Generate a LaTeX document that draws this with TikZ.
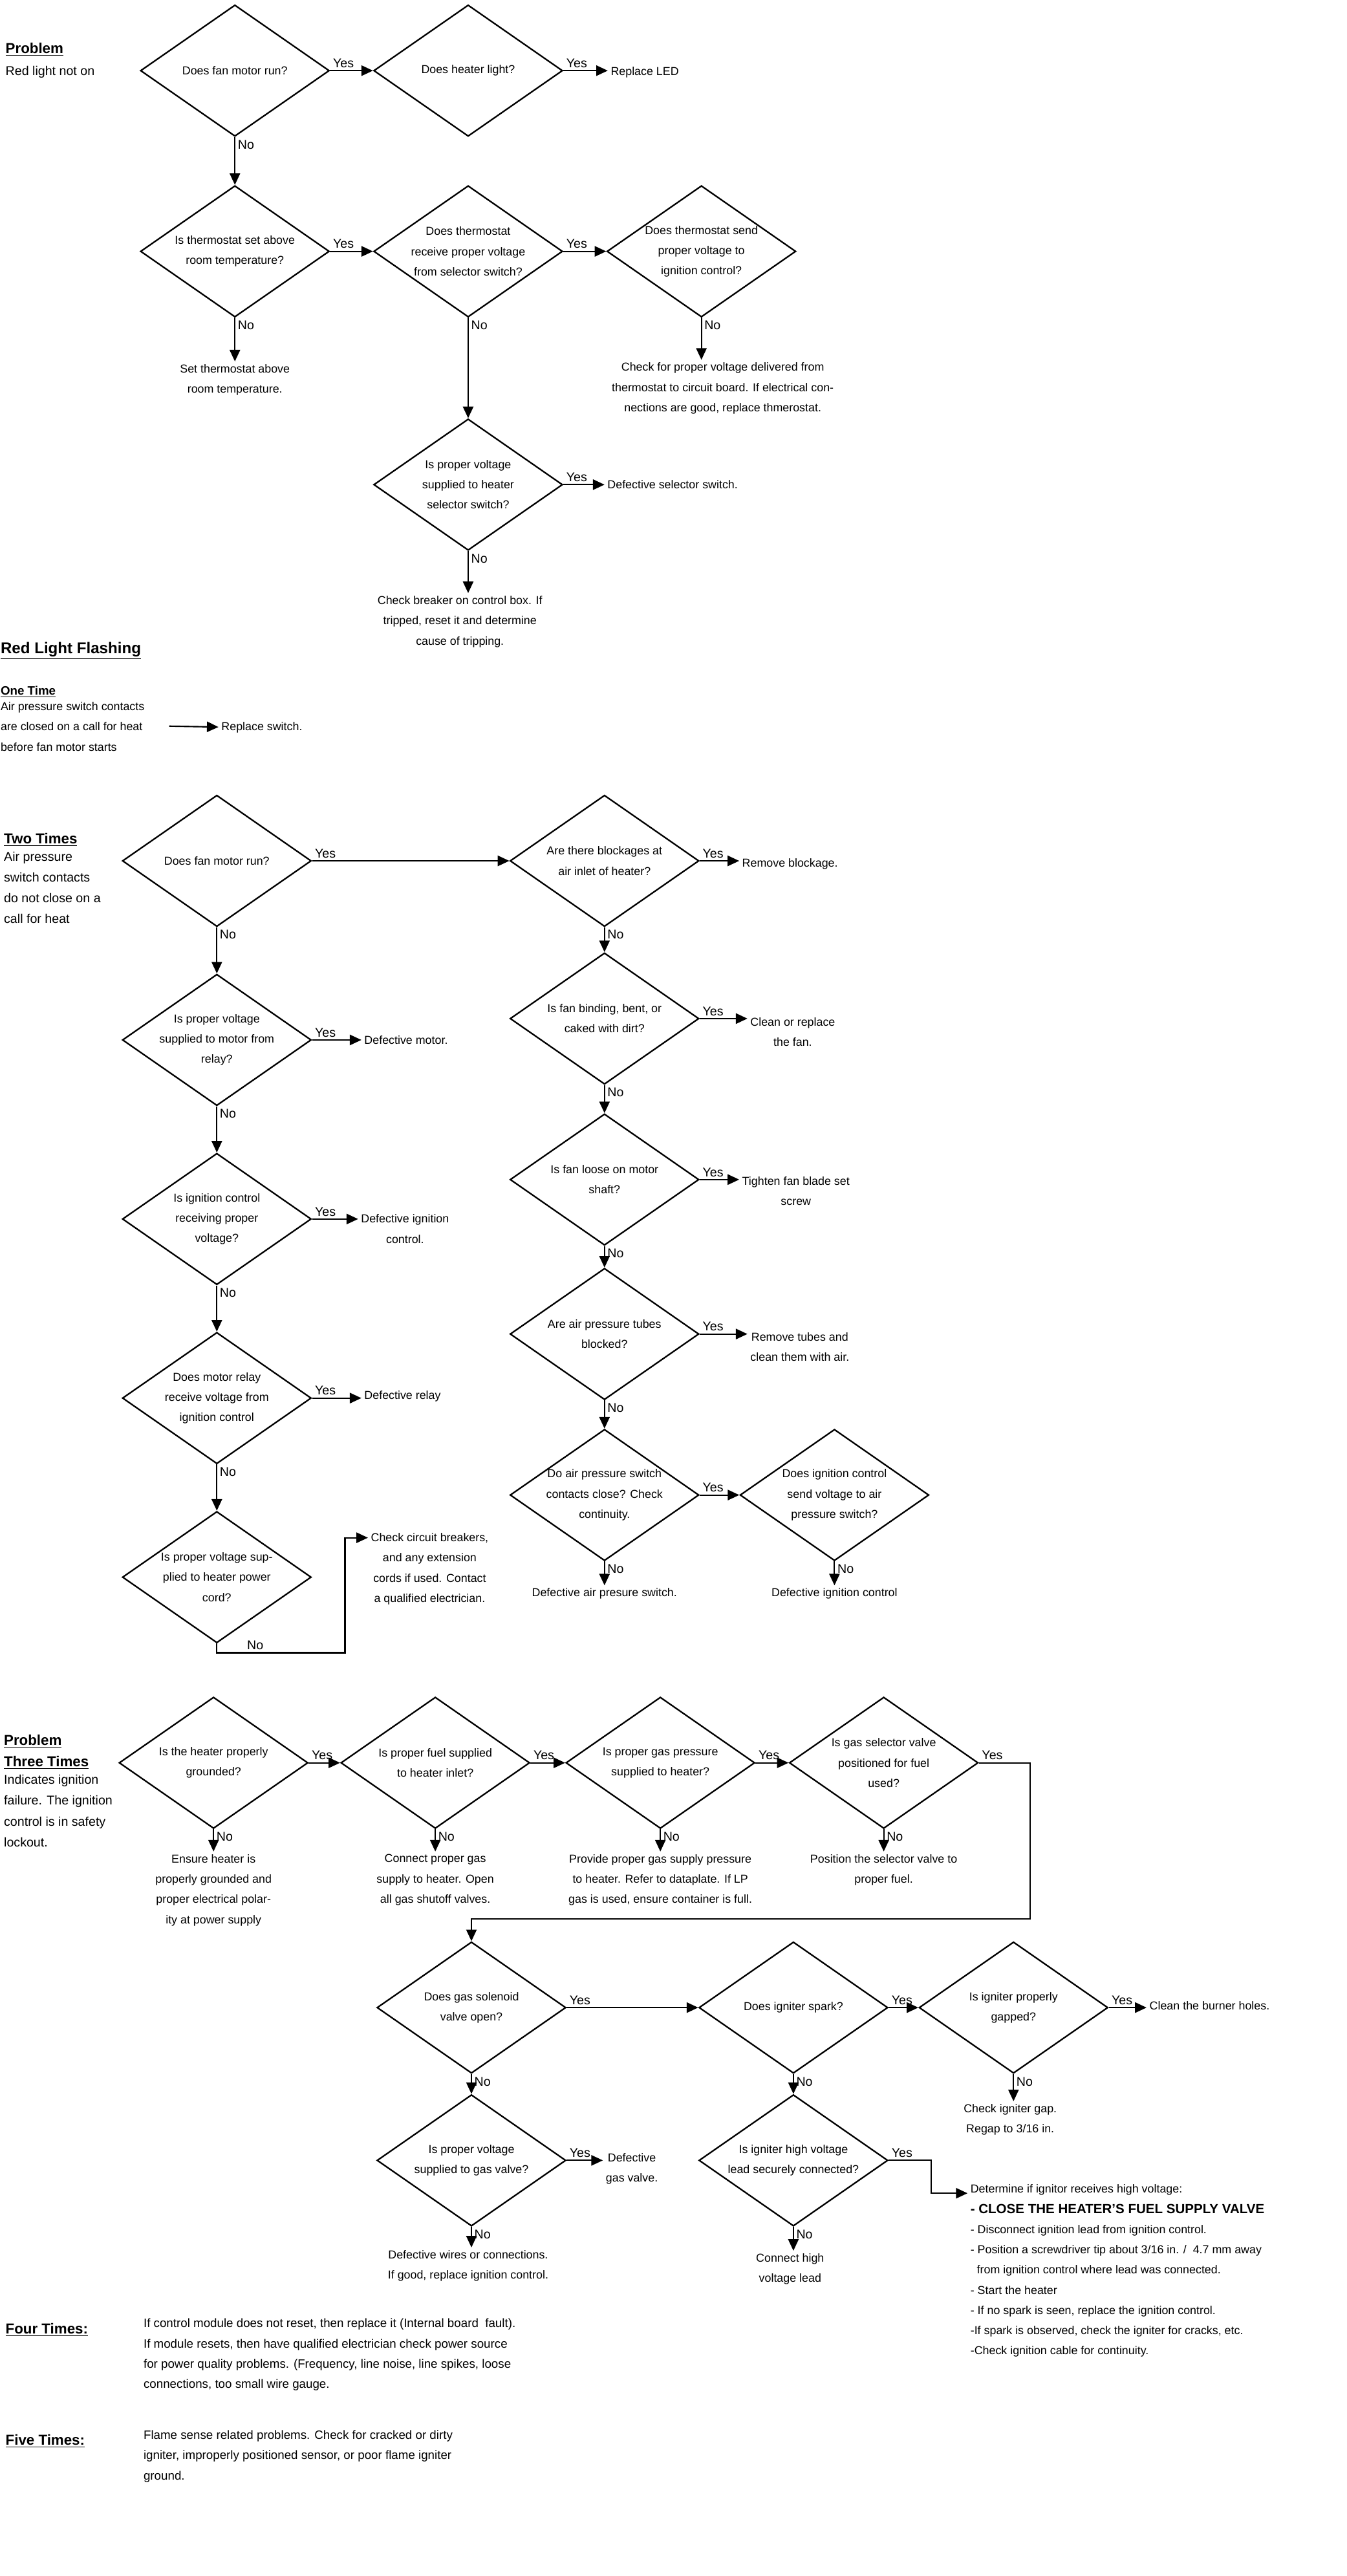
\documentclass[tikz,border=0pt]{standalone}
\usepackage{fontspec}
\setmainfont{Liberation Sans}
\usetikzlibrary{shapes.geometric,arrows.meta}

\begin{document}
\begin{tikzpicture}[x=0.05cm, y=-0.05cm, ->, >={Triangle[length=10pt,width=9pt]},
    line width=1.2pt, font=\fontsize{10}{17.5}\selectfont]
  \tikzstyle{decision}=[diamond,draw,line width=1.3pt,minimum width=5.75cm,minimum height=4cm,
    inner xsep=-1.6cm,inner ysep=-1cm,align=center]
  \tikzstyle{result}=[align=center,inner sep=2pt]
  \tikzstyle{note}=[align=left,inner sep=0pt,anchor=north west,font=\fontsize{11}{18}\selectfont]
  \tikzstyle{head}=[anchor=west,inner sep=0pt,font=\bfseries\fontsize{12.5}{15}\selectfont]
  \tikzstyle{yeslabel}=[above right,pos=0,inner sep=2pt,font=\fontsize{11}{13}\selectfont]
  \tikzstyle{nolabel}=[below right,pos=0,inner sep=2pt,font=\fontsize{11}{13}\selectfont]

  \useasboundingbox (0,0) rectangle (820,1568);

  % red light not on
  \node[head] (prob1) at (3,30) {\underline{Problem}};
  \node[anchor=west,inner sep=0pt,font=\fontsize{11}{13}\selectfont] (prob1txt) at (3,44) {Red light not on};

  \node[decision] (fan) at (143,43) {Does fan motor run?};
  \node[decision] (light) at (285,43) {Does heater light?};
  \node[result,anchor=west] (led) at (370,44) {Replace LED};
  \node[decision] (set) at (143,153) {Is thermostat set above\\room temperature?};
  \node[decision] (recv) at (285,153) {Does thermostat\\receive proper voltage\\from selector switch?};
  \node[decision] (send) at (427,153) {Does thermostat send\\proper voltage to\\ignition control?};
  \node[result,anchor=north] (setres) at (143,220) {Set thermostat above\\room temperature.};
  \node[result,anchor=north] (sendres) at (440,219) {Check for proper voltage delivered from\\thermostat to circuit board. If electrical con-\\nections are good, replace thmerostat.};
  \node[decision] (sel) at (285,295) {Is proper voltage\\supplied to heater\\selector switch?};
  \node[result,anchor=west] (selres) at (368,295) {Defective selector switch.};
  \node[result,anchor=north] (brk) at (280,361) {Check breaker on control box. If\\tripped, reset it and determine\\cause of tripping.};

  % red light flashing
  \node[head,font=\bfseries\fontsize{13.5}{16}\selectfont] (flash) at (0,396) {\underline{Red Light Flashing}};
  \node[head,font=\bfseries\fontsize{10.5}{13}\selectfont] (one) at (0,421) {\underline{One Time}};
  \node[note,font=\fontsize{10}{17.5}\selectfont] (onetxt) at (0,427) {Air pressure switch contacts\\are closed on a call for heat\\before fan motor starts};
  \coordinate (onearr) at (103,442);
  \node[result,anchor=west] (swres) at (133,443) {Replace switch.};

  \node[head] (two) at (2,511) {\underline{Two Times}};
  \node[note] (twotxt) at (2,518) {Air pressure\\switch contacts\\do not close on a\\call for heat};

  \node[decision] (E1) at (132,524) {Does fan motor run?};
  \node[decision] (E2) at (132,633) {Is proper voltage\\supplied to motor from\\relay?};
  \node[decision] (E3) at (132,742) {Is ignition control\\receiving proper\\voltage?};
  \node[decision] (E4) at (132,851) {Does motor relay\\receive voltage from\\ignition control};
  \node[decision] (E5) at (132,960) {Is proper voltage sup-\\plied to heater power\\cord?};
  \node[result,anchor=west] (motres) at (220,633) {Defective motor.};
  \node[result,anchor=west] (ignres) at (218,748) {Defective ignition\\control.};
  \node[result,anchor=west] (relres) at (220,850) {Defective relay};
  \node[result,anchor=west] (cordres) at (224,955) {Check circuit breakers,\\and any extension\\cords if used. Contact\\a qualified electrician.};
  \coordinate (c1) at (132,1006);
  \coordinate (c2) at (210,1006);
  \coordinate (c3) at (210,936);

  \node[decision] (F1) at (368,524) {Are there blockages at\\air inlet of heater?};
  \node[decision] (F2) at (368,620) {Is fan binding, bent, or\\caked with dirt?};
  \node[decision] (F3) at (368,718) {Is fan loose on motor\\shaft?};
  \node[decision] (F4) at (368,812) {Are air pressure tubes\\blocked?};
  \node[decision] (F5) at (368,910) {Do air pressure switch\\contacts close? Check\\continuity.};
  \node[decision] (F6) at (508,910) {Does ignition control\\send voltage to air\\pressure switch?};
  \node[result,anchor=west] (blkres) at (450,526) {Remove blockage.};
  \node[result,anchor=west] (fanres) at (455,628) {Clean or replace\\the fan.};
  \node[result,anchor=west] (screwres) at (450,725) {Tighten fan blade set\\screw};
  \node[result,anchor=west] (tuberes) at (455,820) {Remove tubes and\\clean them with air.};
  \node[result,anchor=north] (apsres) at (368,965) {Defective air presure switch.};
  \node[result,anchor=north] (igcres) at (508,965) {Defective ignition control};

  % three times
  \node[head] (prob3) at (2,1060) {\underline{Problem}};
  \node[head] (three) at (2,1073) {\underline{Three Times}};
  \node[note] (threetxt) at (2,1080) {Indicates ignition\\failure. The ignition\\control is in safety\\lockout.};

  \node[decision] (G1) at (130,1073) {Is the heater properly\\grounded?};
  \node[decision] (G2) at (265,1073) {Is proper fuel supplied\\to heater inlet?};
  \node[decision] (G3) at (402,1073) {Is proper gas pressure\\supplied to heater?};
  \node[decision] (G4) at (538,1073) {Is gas selector valve\\positioned for fuel\\used?};
  \node[result,anchor=north] (gndres) at (130,1127) {Ensure heater is\\properly grounded and\\proper electrical polar-\\ity at power supply};
  \node[result,anchor=north] (fuelres) at (265,1127) {Connect proper gas\\supply to heater. Open\\all gas shutoff valves.};
  \node[result,anchor=north] (presres) at (402,1127) {Provide proper gas supply pressure\\to heater. Refer to dataplate. If LP\\gas is used, ensure container is full.};
  \node[result,anchor=north] (posres) at (538,1127) {Position the selector valve to\\proper fuel.};
  \coordinate (g4r) at (627,1073);
  \coordinate (g4b) at (627,1168);

  \node[decision] (H1) at (287,1222) {Does gas solenoid\\valve open?};
  \node[decision] (H2) at (483,1222) {Does igniter spark?};
  \node[decision] (H3) at (617,1222) {Is igniter properly\\gapped?};
  \node[decision] (H4) at (287,1315) {Is proper voltage\\supplied to gas valve?};
  \node[decision] (H5) at (483,1315) {Is igniter high voltage\\lead securely connected?};
  \node[result,anchor=west] (burnres) at (698,1221) {Clean the burner holes.};
  \node[result,anchor=north] (gapres) at (615,1279) {Check igniter gap.\\Regap to 3/16 in.};
  \node[result,anchor=west] (gvres) at (367,1320) {Defective\\gas valve.};
  \node[result,anchor=north] (wireres) at (285,1368) {Defective wires or connections.\\If good, replace ignition control.};
  \node[result,anchor=north] (leadres) at (481,1370) {Connect high\\voltage lead};
  \node[result,align=left,anchor=north west] (volt) at (589,1328) {Determine if ignitor receives high voltage:\\
    {\bfseries\fontsize{11.5}{17.5}\selectfont - CLOSE THE HEATER’S FUEL SUPPLY VALVE}\\
    - Disconnect ignition lead from ignition control.\\
    - Position a screwdriver tip about 3/16 in. /~~4.7 mm away\\
    \ \ from ignition control where lead was connected.\\
    - Start the heater\\
    - If no spark is seen, replace the ignition control.\\
    -If spark is observed, check the igniter for cracks, etc.\\
    -Check ignition cable for continuity.};
  \coordinate (h5r) at (567,1315);
  \coordinate (h5b) at (567,1335);

  % four and five times
  \node[head] (four) at (3,1418) {\underline{Four Times:}};
  \node[note,font=\fontsize{10.5}{17.5}\selectfont] (fourtxt) at (87,1411) {If control module does not reset, then replace it (Internal board~ fault).\\If module resets, then have qualified electrician check power source\\for power quality problems. (Frequency, line noise, line spikes, loose\\connections, too small wire gauge.};
  \node[head] (five) at (3,1486) {\underline{Five Times:}};
  \node[note,font=\fontsize{10.5}{17.5}\selectfont] (fivetxt) at (87,1479) {Flame sense related problems. Check for cracked or dirty\\igniter, improperly positioned sensor, or poor flame igniter\\ground.};

  % yes connectors
  \foreach \a/\b in {fan/light, light/led, set/recv, recv/send, sel/selres,
      E1/F1, E2/motres, E3/ignres, E4/relres,
      F1/blkres, F2/fanres, F3/screwres, F4/tuberes, F5/F6,
      G1/G2, G2/G3, G3/G4, H1/H2, H2/H3, H3/burnres, H4/gvres}
    \draw (\a) -- node[yeslabel]{Yes} (\b.west |- \a);

  % no connectors
  \foreach \a/\b in {fan/set, set/setres, recv/sel, send/sendres, sel/brk,
      E1/E2, E2/E3, E3/E4, E4/E5,
      F1/F2, F2/F3, F3/F4, F4/F5, F5/apsres, F6/igcres,
      G1/gndres, G2/fuelres, G3/presres, G4/posres,
      H1/H4, H2/H5, H3/gapres, H4/wireres, H5/leadres}
    \draw (\a) -- node[nolabel]{No} (\a |- \b.north);

  \draw (onearr) -- (swres);
  \draw (E5.south) -- (c1) -- node[above,pos=0.3,inner sep=2pt,font=\fontsize{11}{13}\selectfont]{No} (c2) -- (c3) -- (c3 -| cordres.west);
  \draw (G4) -- node[yeslabel]{Yes} (g4r) -- (g4b) -| (H1);
  \draw (H5) -- node[yeslabel]{Yes} (h5r) -- (h5b) -- (h5b -| volt.west);
\end{tikzpicture}
\end{document}
